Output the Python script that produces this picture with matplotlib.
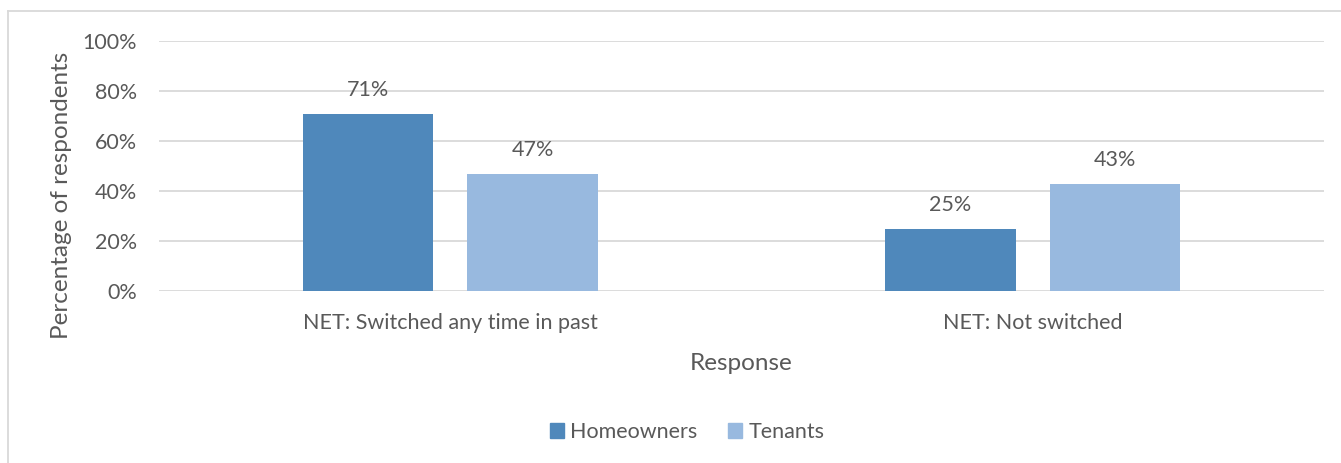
import numpy as np
import matplotlib.pyplot as plt
from matplotlib.lines import Line2D
from matplotlib.patches import Patch
from matplotlib.ticker import PercentFormatter

# survey results: share of respondents per response
categories = ['NET: Switched any time in past', 'NET: Not switched']
homeowners = [71, 25]
tenants = [47, 43]

col_home = '#4F88BB'
col_tenant = '#98B9DF'
txt = '#595959'

plt.rcParams['font.family'] = ['Lato', 'DejaVu Sans']

fig = plt.figure(figsize=(13.41, 4.63), dpi=100)
ax = fig.add_axes([159/1341, 1 - 291/463, (1324-159)/1341, 250/463])

x = np.arange(len(categories))
w = 0.224
off = 0.1416
b1 = ax.bar(x - off, homeowners, w, color=col_home)
b2 = ax.bar(x + off, tenants, w, color=col_tenant)

for bars, vals in ((b1, homeowners), (b2, tenants)):
    for b, v in zip(bars, vals):
        ax.annotate(f'{v}%', (b.get_x() + b.get_width()/2, v), xytext=(0, 10),
                    textcoords='offset points', ha='center', va='bottom',
                    fontsize=15.5, color=txt)

ax.set_xlim(-0.5, 1.5)
ax.set_ylim(0, 100)
ax.set_yticks(range(0, 101, 20))
ax.yaxis.set_major_formatter(PercentFormatter(decimals=0))
ax.set_xticks(x)
ax.set_xticklabels(categories)
ax.tick_params(axis='both', length=0, labelsize=15.5, colors=txt)
ax.tick_params(axis='x', pad=16)
ax.tick_params(axis='y', pad=16)
ax.grid(axis='y', color='#D9D9D9', linewidth=1.3)
ax.set_axisbelow(True)
for s in ax.spines.values():
    s.set_visible(False)

ax.set_ylabel('Percentage of respondents', fontsize=17.5, color=txt)
ax.yaxis.set_label_coords(-0.0745, 0.384)
ax.set_xlabel('Response', fontsize=17.5, color=txt, labelpad=14)

handles = [Patch(color=col_home, label='Homeowners'),
           Patch(color=col_tenant, label='Tenants')]
fig.legend(handles=handles, loc='center', bbox_to_anchor=(687/1341, 1 - 432/463),
           ncol=2, frameon=False, fontsize=15.5, handlelength=0.65, handleheight=0.65,
           handletextpad=0.3, columnspacing=1.4, labelcolor=txt)

# outer chart frame (top and left edges)
fig.add_artist(Line2D([8/1341, 1], [1 - 11/463, 1 - 11/463], color='#D9D9D9', lw=1.3,
                      transform=fig.transFigure))
fig.add_artist(Line2D([8/1341, 8/1341], [0, 1 - 11/463], color='#D9D9D9', lw=1.3,
                      transform=fig.transFigure))

fig.savefig('out.png', dpi=100)
